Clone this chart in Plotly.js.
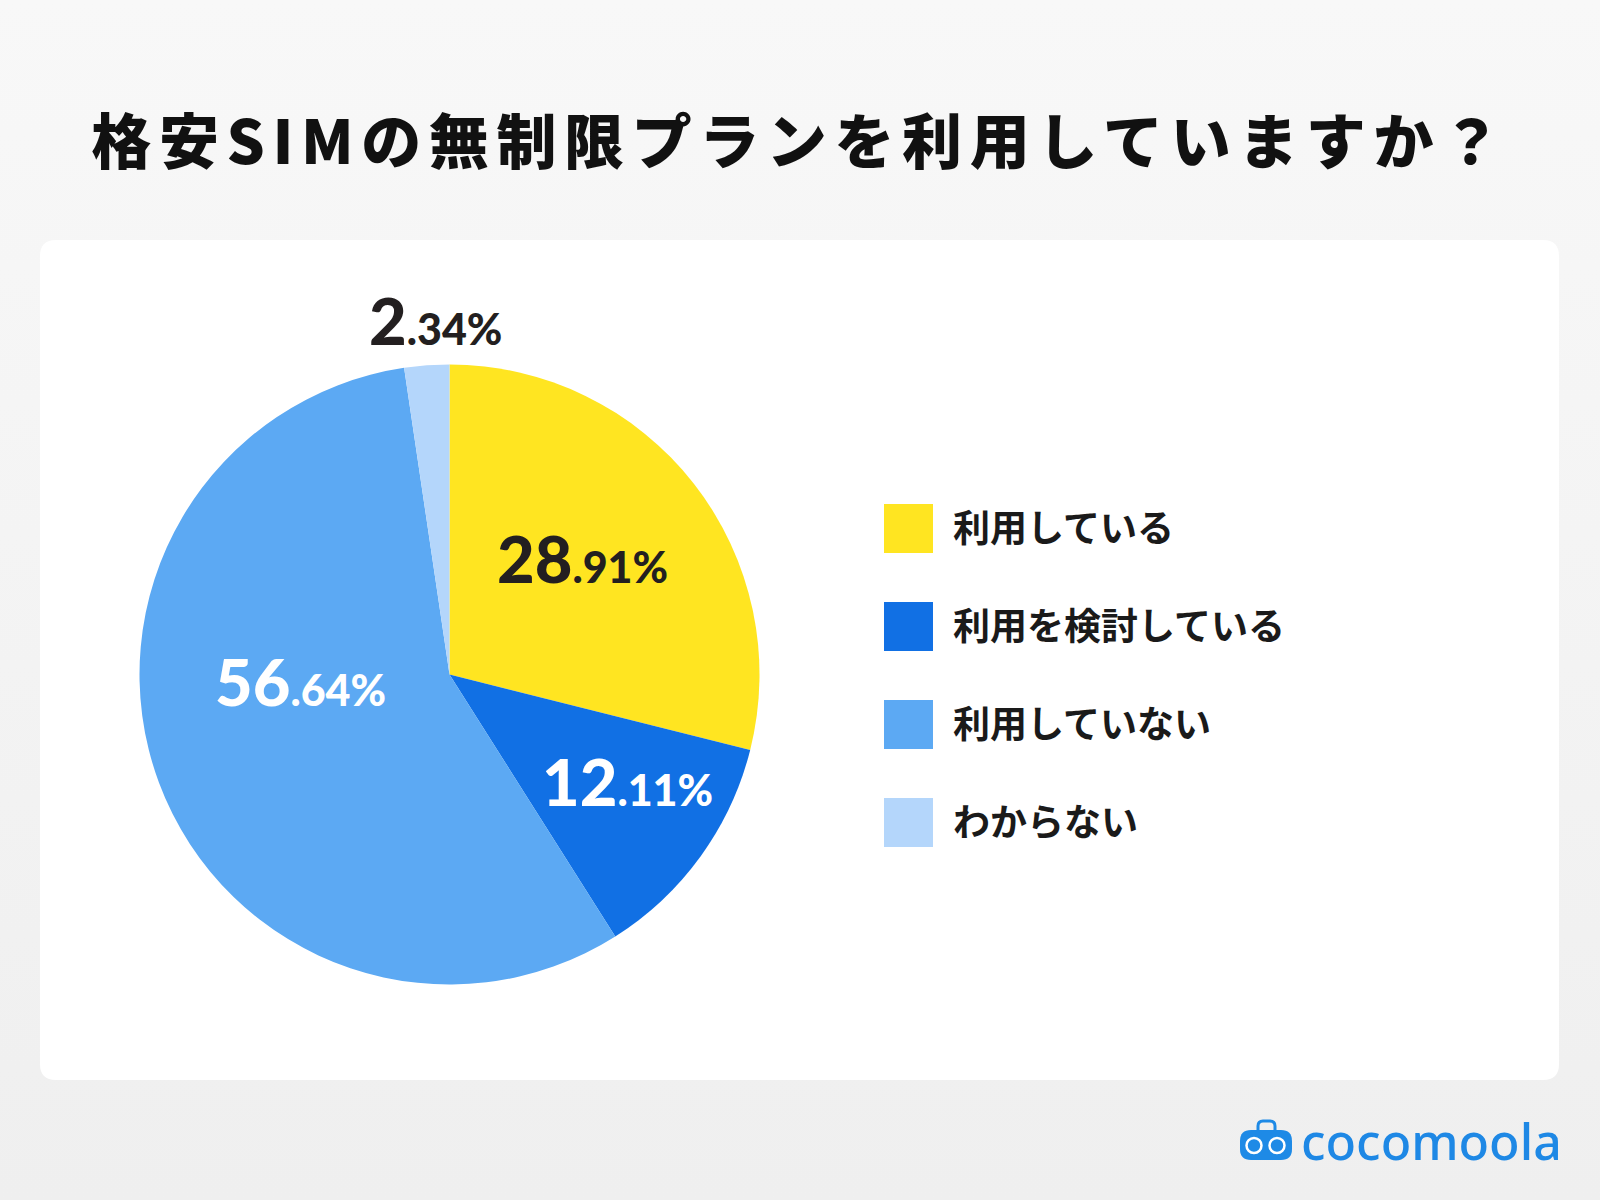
<!DOCTYPE html>
<html><head><meta charset="utf-8">
<script src="https://cdn.plot.ly/plotly-3.0.1.min.js"></script>
<style>
html,body{margin:0;padding:0;}
body{width:1600px;height:1200px;background:linear-gradient(#f8f8f8,#efefef);overflow:hidden;}
#chart{width:1600px;height:1200px;}
.gtitle{letter-spacing:7.6px;}
</style></head><body><div id="chart"></div>
<script>
// ---- data ----
const titleText = '格安SIMの無制限プランを利用していますか？';
const categories = ['利用している', '利用を検討している', '利用していない', 'わからない'];
const values = [28.91, 12.11, 56.64, 2.34];
const colors = ['#FFE521', '#1170E4', '#5CA9F3', '#B4D6FB'];
const labelColors = ['#231F20', '#FFFFFF', '#FFFFFF', '#231F20'];
const brand = 'cocomoola';

// ---- layout helpers (pixel -> paper) ----
const W = 1600, H = 1200;
const fx = x => x / W;
const fy = y => 1 - y / H;
const P = (x, y) => fx(x) + ',' + fy(y);
function roundRect(x0, y0, x1, y1, r) {
  return 'M' + P(x0 + r, y0) + ' L' + P(x1 - r, y0) + ' Q' + P(x1, y0) + ' ' + P(x1, y0 + r) +
    ' L' + P(x1, y1 - r) + ' Q' + P(x1, y1) + ' ' + P(x1 - r, y1) +
    ' L' + P(x0 + r, y1) + ' Q' + P(x0, y1) + ' ' + P(x0, y1 - r) +
    ' L' + P(x0, y0 + r) + ' Q' + P(x0, y0) + ' ' + P(x0 + r, y0) + ' Z';
}

// pie geometry
const cx = 449.5, cy = 674.5, R = 310;

// label anchor positions (left x, middle y) in pixels
const labelAnchors = [[495, 558], [540, 781], [213, 681], [367, 320]];

const trace = {
  type: 'pie',
  values: values,
  labels: categories,
  marker: { colors: colors, line: { width: 0 } },
  sort: false,
  direction: 'clockwise',
  rotation: 0,
  textinfo: 'none',
  hoverinfo: 'label+value',
  showlegend: false,
  domain: { x: [fx(cx - R), fx(cx + R)], y: [fy(cy + R), fy(cy - R)] }
};

const shapes = [];
const annotations = [];

// card
shapes.push({ type: 'path', xref: 'paper', yref: 'paper', layer: 'below',
  path: roundRect(40, 240, 1559, 1080, 16), fillcolor: '#FFFFFF', line: { width: 0 } });

// value labels
values.forEach((v, i) => {
  const parts = v.toFixed(2).split('.');
  annotations.push({
    xref: 'paper', yref: 'paper', x: fx(labelAnchors[i][0]), y: fy(labelAnchors[i][1]),
    xanchor: 'left', yanchor: 'middle', showarrow: false,
    text: parts[0] + '<span style="font-size:43px">.' + parts[1] + '%</span>',
    font: { family: 'Lato, sans-serif', size: 65, weight: 900, color: labelColors[i] }
  });
});

// legend
categories.forEach((c, i) => {
  const top = 504 + 98 * i;
  shapes.push({ type: 'rect', xref: 'paper', yref: 'paper',
    x0: fx(884), x1: fx(933), y0: fy(top + 49), y1: fy(top),
    fillcolor: colors[i], line: { width: 0 } });
  annotations.push({
    xref: 'paper', yref: 'paper', x: fx(951), y: fy(top + 22),
    xanchor: 'left', yanchor: 'middle', showarrow: false, text: c,
    font: { family: '"Noto Sans CJK JP", sans-serif', size: 37, weight: 700, color: '#1A1A1A' }
  });
});

// logo icon
shapes.push({ type: 'path', xref: 'paper', yref: 'paper',
  path: 'M' + P(1258, 1132) + ' L' + P(1258, 1126) + ' Q' + P(1258, 1121) + ' ' + P(1263, 1121) +
    ' L' + P(1270, 1121) + ' Q' + P(1275, 1121) + ' ' + P(1275, 1126) + ' L' + P(1275, 1132),
  line: { color: '#1E8AE6', width: 3 } });
shapes.push({ type: 'path', xref: 'paper', yref: 'paper',
  path: roundRect(1240, 1130, 1292, 1160, 11), fillcolor: '#1E8AE6', line: { width: 0 } });
[1254, 1277].forEach(x => {
  shapes.push({ type: 'circle', xref: 'paper', yref: 'paper',
    x0: fx(x - 7.5), x1: fx(x + 7.5), y0: fy(1153), y1: fy(1138),
    fillcolor: 'rgba(0,0,0,0)', line: { color: '#FFFFFF', width: 2.5 } });
});
annotations.push({
  xref: 'paper', yref: 'paper', x: fx(1299), y: fy(1141),
  xanchor: 'left', yanchor: 'middle', showarrow: false, text: brand,
  font: { family: '"Noto Sans", sans-serif', size: 50, weight: 500, color: '#1E88E5' }
});

const layout = {
  width: W, height: H,
  margin: { l: 0, r: 0, t: 0, b: 0 },
  paper_bgcolor: 'rgba(0,0,0,0)',
  plot_bgcolor: 'rgba(0,0,0,0)',
  title: {
    text: titleText, x: 0.5, xanchor: 'center', y: fy(143), yanchor: 'middle',
    font: { family: '"Noto Sans CJK JP", sans-serif', size: 60, weight: 900, color: '#111111' }
  },
  shapes: shapes,
  annotations: annotations,
  showlegend: false
};

Plotly.newPlot('chart', [trace], layout, { displayModeBar: false, staticPlot: true });
</script></body></html>
